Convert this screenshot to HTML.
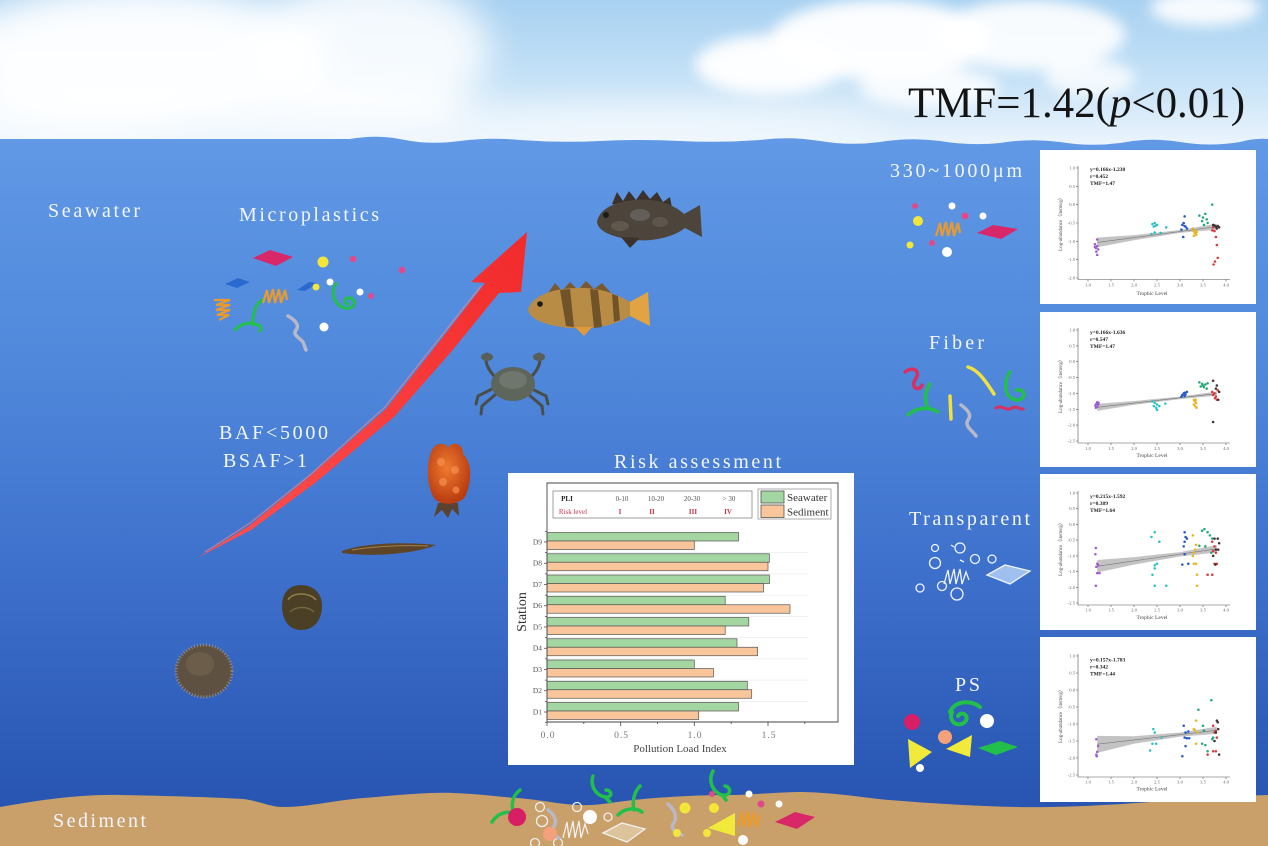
<!DOCTYPE html>
<html><head><meta charset="utf-8">
<style>
html,body{margin:0;padding:0;width:1268px;height:846px;overflow:hidden;background:#4a80d8}
svg{display:block}
text{font-family:"Liberation Serif",serif}
.lbl{fill:#f3f6ff;font-size:20px}
.tk{font-size:4.6px;fill:#666}
.pt{fill:none;stroke-linecap:round;stroke-width:2.5}
</style></head><body>
<svg width="1268" height="846" viewBox="0 0 1268 846" xmlns="http://www.w3.org/2000/svg">
<defs>
<linearGradient id="sky" x1="0" y1="0" x2="0" y2="1">
<stop offset="0" stop-color="#a8d1f1"/>
<stop offset="0.55" stop-color="#c6e2f7"/>
<stop offset="1" stop-color="#eef6fd"/>
</linearGradient>
<linearGradient id="sea" x1="0" y1="140" x2="0" y2="846" gradientUnits="userSpaceOnUse">
<stop offset="0" stop-color="#6199e6"/>
<stop offset="0.35" stop-color="#4e86da"/>
<stop offset="0.65" stop-color="#3b6dc9"/>
<stop offset="1" stop-color="#2350ac"/>
</linearGradient>
<filter id="b20" x="-60%" y="-60%" width="220%" height="220%"><feGaussianBlur stdDeviation="18"/></filter>
<filter id="b8" x="-60%" y="-60%" width="220%" height="220%"><feGaussianBlur stdDeviation="7"/></filter>
<linearGradient id="arr" x1="197" y1="558" x2="527" y2="232" gradientUnits="userSpaceOnUse">
<stop offset="0" stop-color="#ff5050"/><stop offset="1" stop-color="#f22a2a"/>
</linearGradient>
<radialGradient id="cuc" cx="0.45" cy="0.4" r="0.6">
<stop offset="0" stop-color="#f07a30"/><stop offset="1" stop-color="#b83c10"/>
</radialGradient>
</defs>

<!-- SKY -->
<rect x="0" y="0" width="1268" height="150" fill="url(#sky)"/>
<g filter="url(#b20)" fill="#fff">
<ellipse cx="140" cy="55" rx="190" ry="70" opacity="0.95"/>
<ellipse cx="80" cy="115" rx="130" ry="30" opacity="0.85"/>
<ellipse cx="370" cy="50" rx="120" ry="75" opacity="0.85"/>
<ellipse cx="300" cy="115" rx="170" ry="25" opacity="0.75"/>
<ellipse cx="640" cy="125" rx="250" ry="18" opacity="0.6"/>
</g>
<g filter="url(#b8)" fill="#fff">
<ellipse cx="770" cy="65" rx="75" ry="30" opacity="0.95"/>
<ellipse cx="880" cy="40" rx="110" ry="40" opacity="0.95"/>
<ellipse cx="1030" cy="35" rx="95" ry="35" opacity="0.9"/>
<ellipse cx="930" cy="88" rx="70" ry="20" opacity="0.85"/>
<ellipse cx="1090" cy="78" rx="45" ry="18" opacity="0.8"/>
<ellipse cx="1205" cy="8" rx="55" ry="18" opacity="0.9"/>
</g>

<!-- SEA -->
<path d="M0,846 L0,139 L350,139 Q378,134 405,140 Q430,145 460,141 Q490,137 520,140 Q560,143 600,141 Q640,139 680,141 Q720,143 760,140 Q790,136 820,141 Q850,146 880,142 Q910,137 940,141 Q970,146 1000,143 Q1030,138 1060,142 Q1090,147 1120,143 Q1150,137 1180,142 Q1210,147 1240,142 Q1255,138 1268,139 L1268,846 Z" fill="url(#sea)"/>

<!-- SEDIMENT -->
<path d="M0,807 C40,800 80,794 121,795 C170,796 210,797 243,799 C260,801 270,807 283,807 C310,807 335,800 364,798 C400,795 430,792 453,793 C480,794 500,797 517,798 C545,800 565,806 590,805 C610,804 620,800 670,797 C700,795 720,795 737,795 C760,794 785,792 803,792 C840,793 865,798 889,800 C940,804 1000,808 1051,807 C1120,806 1200,797 1268,795 L1268,846 L0,846 Z" fill="#c9a069"/>

<!-- TITLE -->
<text x="908" y="117" font-size="43" fill="#141414" textLength="337" lengthAdjust="spacingAndGlyphs">TMF=1.42(<tspan font-style="italic">p</tspan>&lt;0.01)</text>

<!-- LEFT LABELS -->
<text class="lbl" x="48" y="217" textLength="92">Seawater</text>
<text class="lbl" x="239" y="221" textLength="140">Microplastics</text>
<text class="lbl" x="219" y="439" textLength="109">BAF&lt;5000</text>
<text class="lbl" x="223" y="467" textLength="84">BSAF&gt;1</text>
<text class="lbl" x="53" y="827" textLength="93">Sediment</text>
<text class="lbl" x="614" y="468" textLength="167">Risk assessment</text>
<text class="lbl" x="890" y="177" textLength="132">330~1000μm</text>
<text class="lbl" x="929" y="349" textLength="55">Fiber</text>
<text class="lbl" x="909" y="525" textLength="121">Transparent</text>
<text class="lbl" x="955" y="691" textLength="25">PS</text>

<!-- ARROW -->
<path d="M197,558 L249,526 L309,477 L386,409 L439,342 L485,283 L471,282 L527,232 L521,292 L499,293 L451,352 L394,417 L315,483 L251,530 Z" fill="url(#arr)"/>
<path d="M205,552 L250,523 L310,475 L385,407 L438,340 L481,286" stroke="#ff8a8a" stroke-width="1.2" fill="none" opacity="0.6"/>

<!-- CREATURES -->
<g>
<polygon points="612,204 617,192 623,201 629,191 636,200 643,190 650,199 657,192 663,202 670,197 672,208" fill="#3a322b"/>
<path d="M597,222 C600,205 625,198 650,200 C665,201 678,208 684,214 L700,205 L702,237 L685,228 C675,236 655,242 635,240 C615,238 598,232 597,222 Z" fill="#4d443b"/>
<polygon points="621,237 630,248 640,238" fill="#3a322b"/>
<ellipse cx="640" cy="215" rx="10" ry="6" fill="#6e6a6a" opacity="0.7"/>
<ellipse cx="660" cy="222" rx="8" ry="5" fill="#6a6258" opacity="0.6"/>
<ellipse cx="620" cy="226" rx="9" ry="5" fill="#6e655a" opacity="0.6"/>
<circle cx="606" cy="215" r="3" fill="#1e1a18"/>
</g>
<g>
<path d="M548,293 L555,283 L562,291 L570,282 L578,290 L586,281 L594,289 L602,283 L612,294" fill="#7a5a2c"/>
<path d="M528,310 C532,295 555,287 585,288 C605,289 620,296 630,302 L648,292 L650,326 L630,316 C615,325 595,330 570,328 C548,326 530,320 528,310 Z" fill="#b88c45"/>
<path d="M630,302 L648,292 L650,326 L630,316 Z" fill="#e2a442"/>
<path d="M560,290 L566,326 L574,327 L570,289 Z M590,289 L594,328 L602,327 L598,290 Z M612,294 L614,322 L620,320 L618,296Z" fill="#5a4020" opacity="0.75"/>
<polygon points="575,327 584,336 592,327" fill="#e09a3a"/>
<circle cx="540" cy="304" r="2.8" fill="#1e1a18"/>
</g>
<g stroke="#4a4e48" stroke-width="3" fill="none" stroke-linecap="round">
<path d="M496,378 C488,370 484,362 487,354 M530,378 C538,370 542,362 539,354"/>
<path d="M494,388 L478,396 L476,404 M496,394 L482,406 L481,414 M530,388 L546,396 L548,404 M528,394 L542,406 L543,414"/>
</g>
<ellipse cx="487" cy="357" rx="6" ry="4" fill="#5a5e58"/>
<ellipse cx="539" cy="357" rx="6" ry="4" fill="#5a5e58"/>
<ellipse cx="513" cy="384" rx="22" ry="17" fill="#5e665c"/>
<ellipse cx="513" cy="380" rx="14" ry="9" fill="#79807a" opacity="0.6"/>
<g>
<path d="M438,503 L434,517 L442,510 L448,518 L452,509 L459,516 L458,503 Z" fill="#5a4230"/>
<path d="M432,450 C436,442 446,442 448,448 C452,440 464,444 463,454 C472,462 472,480 466,495 C462,505 440,507 434,498 C426,485 426,462 432,450 Z" fill="url(#cuc)"/>
<circle cx="441" cy="462" r="4" fill="#f59050" opacity="0.7"/>
<circle cx="455" cy="470" r="4" fill="#f59050" opacity="0.7"/>
<circle cx="443" cy="482" r="4" fill="#f59050" opacity="0.7"/>
<circle cx="456" cy="490" r="3.5" fill="#f59050" opacity="0.7"/>
</g>
<path d="M342,551 C360,544 400,541 436,545 C420,552 380,558 342,553 Z" fill="#5e4528"/>
<path d="M352,550 C375,546 405,545 428,546" stroke="#a0804c" stroke-width="1" fill="none"/>
<path d="M282,606 C282,590 292,585 301,585 C312,585 322,592 322,606 C322,620 314,630 301,630 C289,630 282,620 282,606 Z" fill="#4b4026"/>
<path d="M288,600 C292,592 310,592 316,600" stroke="#a89a5a" stroke-width="1.5" fill="none" opacity="0.7"/>
<path d="M290,612 C296,606 308,606 314,612" stroke="#8c7e48" stroke-width="1.2" fill="none" opacity="0.7"/>
<ellipse cx="204" cy="671" rx="28" ry="26" fill="#5e5142"/>
<ellipse cx="204" cy="671" rx="28" ry="26" fill="none" stroke="#9a8c78" stroke-width="3" stroke-dasharray="1 2"/>
<ellipse cx="200" cy="664" rx="14" ry="12" fill="#75664f" opacity="0.6"/>

<!-- SEAWATER MICROPLASTICS -->
<g>
<path d="M253,258 L270,250 L293,257 L276,266 Z" fill="#d8286a"/>
<circle cx="323" cy="262" r="5.5" fill="#f2e63a"/>
<circle cx="353" cy="259" r="3.3" fill="#e04a8a"/>
<circle cx="402" cy="270" r="3.3" fill="#e04a8a"/>
<path d="M225,284 L238,278 L250,282 L237,288Z" fill="#2a6ad0"/>
<path d="M297,290 L309,282 L318,283 L305,291Z" fill="#2a6ad0"/>
<circle cx="316" cy="287" r="3.5" fill="#f2e63a"/>
<circle cx="330" cy="282" r="3.5" fill="#fff"/>
<circle cx="360" cy="292" r="3.5" fill="#fff"/>
<circle cx="371" cy="296" r="3" fill="#e04a8a"/>
<circle cx="324" cy="327" r="4.5" fill="#fff"/>
<path d="M336,284 C330,292 334,305 345,308 C355,310 358,300 350,298 C344,297 343,303 348,304" stroke="#22c04a" stroke-width="3" fill="none" stroke-linecap="round"/>
<path d="M262,300 C255,305 252,315 253,325 M235,330 C242,322 252,322 258,325 C262,327 262,330 260,331" stroke="#22c04a" stroke-width="3" fill="none" stroke-linecap="round"/>
<path d="M263,303 l4,-13 l2,13 l4,-14 l2,14 l4,-14 l2,14 l4,-13 l2,10" stroke="#e89a30" stroke-width="2.2" fill="none"/>
<path d="M214,300 h16 l-14,5 h14 l-14,5 h14 l-13,5 h12 l-10,5" stroke="#e89a30" stroke-width="2.2" fill="none"/>
<path d="M288,316 C295,320 300,325 296,330 C292,335 300,338 303,342 L306,350" stroke="#b8b8c8" stroke-width="3.5" fill="none" stroke-linecap="round"/>
</g>

<!-- RIGHT COLUMN ICONS -->
<g>
<circle cx="915" cy="206" r="3" fill="#e04a8a"/>
<circle cx="918" cy="221" r="5" fill="#f2e63a"/>
<circle cx="952" cy="206" r="3.5" fill="#fff"/>
<circle cx="965" cy="216" r="3.5" fill="#e04a8a"/>
<circle cx="983" cy="216" r="3.5" fill="#fff"/>
<path d="M936,236 l4,-13 l2,13 l4,-14 l2,14 l4,-14 l2,14 l4,-13 l2,10" stroke="#e89a30" stroke-width="2.2" fill="none"/>
<path d="M977,233 L993,225 L1018,229 L1001,239 Z" fill="#d8286a"/>
<circle cx="910" cy="245" r="3.5" fill="#f2e63a"/>
<circle cx="932" cy="243" r="3" fill="#e04a8a"/>
<circle cx="947" cy="252" r="5" fill="#fff"/>
</g>
<g fill="none" stroke-linecap="round" stroke-width="3.5">
<path d="M905,372 C912,366 922,370 915,380 C910,388 920,392 922,385" stroke="#d83060"/>
<path d="M968,367 C978,370 985,380 994,394" stroke="#f0e040"/>
<path d="M1010,372 C1003,382 1004,400 1018,400 C1028,398 1024,388 1016,390" stroke="#22c04a"/>
<path d="M930,384 C925,392 924,400 928,408 M908,415 C915,408 928,406 938,412" stroke="#22c04a"/>
<path d="M950,396 L951,419" stroke="#f0e040"/>
<path d="M961,405 C968,410 972,415 968,420 C964,426 972,430 976,436" stroke="#b8b8c8"/>
<path d="M996,408 C1002,404 1006,412 1012,408 C1016,405 1020,410 1023,409" stroke="#d83060" stroke-width="3"/>
</g>
<g fill="none" stroke="#f0f4ff" stroke-width="1.3">
<circle cx="935" cy="548" r="3.5"/>
<circle cx="935" cy="563" r="5.5"/>
<circle cx="960" cy="548" r="5"/>
<circle cx="975" cy="559" r="4.5"/>
<circle cx="992" cy="559" r="4"/>
<circle cx="920" cy="588" r="4"/>
<circle cx="942" cy="586" r="4.5"/>
<circle cx="957" cy="594" r="6"/>
<path d="M944,584 l4,-14 l2,14 l4,-15 l2,15 l4,-15 l2,15 l4,-12 l3,8"/>
<path d="M987,575 L1005,565 L1030,571 L1010,584 Z" fill="#9fc0ee"/>
<path d="M951,545 l3,2 M960,560 l4,2"/>
</g>
<g>
<circle cx="912" cy="722" r="8" fill="#d81e64"/>
<path d="M950,712 C955,700 972,700 980,707 M952,712 C948,722 958,728 965,722 C970,716 962,710 958,716" stroke="#22c04a" stroke-width="4" fill="none" stroke-linecap="round"/>
<circle cx="987" cy="721" r="7" fill="#fff"/>
<circle cx="945" cy="737" r="7" fill="#f4a07a"/>
<polygon points="908,739 932,752 910,768" fill="#f2ea3a"/>
<polygon points="972,735 946,749 970,757" fill="#f2ea3a"/>
<polygon points="978,748 1000,741 1018,747 996,755" fill="#22c04a"/>
<circle cx="920" cy="768" r="4" fill="#fff"/>
</g>

<!-- SEDIMENT ICONS -->
<g>
<path d="M492,822 C498,812 510,810 515,815 M515,815 C510,806 512,796 520,790" stroke="#22c04a" stroke-width="3.5" fill="none" stroke-linecap="round"/>
<circle cx="517" cy="817" r="9" fill="#d81e64"/>
<g fill="none" stroke="#f0f0f0" stroke-width="1.3">
<circle cx="540" cy="807" r="4.5"/><circle cx="542" cy="821" r="5.5"/><circle cx="535" cy="843" r="4.5"/><circle cx="558" cy="843" r="4.5"/><circle cx="577" cy="807" r="4.5"/><circle cx="608" cy="817" r="4"/>
<path d="M563,838 l4,-16 l2,16 l4,-17 l2,17 l4,-17 l2,17 l4,-14 l3,10"/>
<path d="M603,833 L622,823 L645,829 L627,842 Z" fill="#dcc39a"/>
</g>
<path d="M548,810 C555,815 558,822 553,828 C550,833 556,836 559,838" stroke="#b8b8c8" stroke-width="3.5" fill="none" stroke-linecap="round"/>
<circle cx="550" cy="834" r="7" fill="#f4a07a"/>
<circle cx="590" cy="817" r="7" fill="#fff"/>
<path d="M593,776 C590,785 595,795 605,797 C613,798 612,790 606,790 M605,797 L610,802" stroke="#22c04a" stroke-width="3.5" fill="none" stroke-linecap="round"/>
<path d="M640,786 C634,792 632,802 634,810 M618,815 C625,808 635,807 642,812" stroke="#22c04a" stroke-width="3.5" fill="none" stroke-linecap="round"/>
<path d="M668,804 C675,810 678,818 673,824 C670,830 678,832 682,835" stroke="#b8b8c8" stroke-width="3.5" fill="none" stroke-linecap="round"/>
<circle cx="685" cy="808" r="5.5" fill="#f2e63a"/>
<circle cx="677" cy="833" r="4" fill="#f2e63a"/>
<circle cx="714" cy="808" r="5" fill="#f2e63a"/>
<circle cx="707" cy="833" r="4" fill="#f2e63a"/>
<path d="M713,771 C708,780 712,792 722,795 C731,797 732,787 725,786 M722,795 L726,800" stroke="#22c04a" stroke-width="3.5" fill="none" stroke-linecap="round"/>
<circle cx="712" cy="794" r="3" fill="#e04a8a"/>
<polygon points="735,813 708,828 735,836" fill="#f2ea3a"/>
<path d="M738,827 l4,-15 l2,15 l4,-15 l2,15 l4,-15 l2,15 l4,-12" stroke="#e89a30" stroke-width="2.2" fill="none"/>
<circle cx="761" cy="804" r="3.5" fill="#e04a8a"/>
<circle cx="749" cy="794" r="3.5" fill="#fff"/>
<circle cx="779" cy="804" r="3.5" fill="#fff"/>
<circle cx="743" cy="840" r="5" fill="#fff"/>
<path d="M775,822 L795,812 L815,817 L797,829 Z" fill="#d8286a"/>
</g>

<!-- RISK CHART -->
<g>
<rect x="508" y="473" width="346" height="292" fill="#fff"/>
<g stroke="#ececec" stroke-width="0.7">
<path d="M548,552.6H808 M548,573.9H808 M548,595.1H808 M548,616.4H808 M548,637.6H808 M548,658.9H808 M548,680.1H808 M548,701.4H808"/>
</g>
<g stroke="#555" stroke-width="0.8">
<rect x="553" y="491" width="199" height="27" fill="#fff" stroke="#888"/>
<rect x="758" y="489" width="73" height="30" fill="#fff" stroke="#999"/>
<rect x="761" y="491" width="23" height="12" fill="#a3d6a0"/>
<rect x="761" y="505" width="23" height="12.5" fill="#f9c69b"/>
</g>
<g stroke="#555" stroke-width="0.7">
<rect x="547" y="702.5" width="191.5" height="8.5" fill="#a3d6a0"/>
<rect x="547" y="711" width="151.7" height="8.5" fill="#f9c69b"/>
<rect x="547" y="681.25" width="200.3" height="8.5" fill="#a3d6a0"/>
<rect x="547" y="689.75" width="204.7" height="8.5" fill="#f9c69b"/>
<rect x="547" y="660" width="147.3" height="8.5" fill="#a3d6a0"/>
<rect x="547" y="668.5" width="166.4" height="8.5" fill="#f9c69b"/>
<rect x="547" y="638.75" width="190" height="8.5" fill="#a3d6a0"/>
<rect x="547" y="647.25" width="210.6" height="8.5" fill="#f9c69b"/>
<rect x="547" y="617.5" width="201.8" height="8.5" fill="#a3d6a0"/>
<rect x="547" y="626" width="178.2" height="8.5" fill="#f9c69b"/>
<rect x="547" y="596.25" width="178.2" height="8.5" fill="#a3d6a0"/>
<rect x="547" y="604.75" width="243" height="8.5" fill="#f9c69b"/>
<rect x="547" y="575" width="222.4" height="8.5" fill="#a3d6a0"/>
<rect x="547" y="583.5" width="216.5" height="8.5" fill="#f9c69b"/>
<rect x="547" y="553.75" width="222.4" height="8.5" fill="#a3d6a0"/>
<rect x="547" y="562.25" width="221" height="8.5" fill="#f9c69b"/>
<rect x="547" y="532.5" width="191.5" height="8.5" fill="#a3d6a0"/>
<rect x="547" y="541" width="147.3" height="8.5" fill="#f9c69b"/>
</g>
<path d="M547,483 H838 V722 H547 Z" fill="none" stroke="#444" stroke-width="0.9"/>
<path d="M544,712H547 M544,690.75H547 M544,669.5H547 M544,648.25H547 M544,627H547 M544,605.75H547 M544,584.5H547 M544,563.25H547 M544,542H547 M545,722.6H547 M545,701.4H547 M545,680.1H547 M545,658.9H547 M545,637.6H547 M545,616.4H547 M545,595.1H547 M545,573.9H547 M545,552.6H547 M545,531.4H547 M547,722V726 M620.7,722V726 M694.3,722V726 M768,722V726 M583.8,722V724 M657.5,722V724 M731.2,722V724 M804.8,722V724" stroke="#444" stroke-width="0.8"/>
<g font-size="7.5" fill="#555" text-anchor="end">
<text x="542" y="714.5">D1</text><text x="542" y="693.2">D2</text><text x="542" y="672">D3</text><text x="542" y="650.7">D4</text><text x="542" y="629.5">D5</text><text x="542" y="608.2">D6</text><text x="542" y="587">D7</text><text x="542" y="565.7">D8</text><text x="542" y="544.5">D9</text>
</g>
<g font-size="9.5" fill="#777" text-anchor="middle" letter-spacing="1">
<text x="548" y="738">0.0</text><text x="621.5" y="738">0.5</text><text x="695" y="738">1.0</text><text x="769" y="738">1.5</text>
</g>
<text x="680" y="752" font-size="11" fill="#444" text-anchor="middle">Pollution Load Index</text>
<text transform="translate(526,612) rotate(-90)" font-size="14" fill="#333" text-anchor="middle">Station</text>
<g font-size="7" fill="#555" text-anchor="middle">
<text x="567" y="501" font-weight="bold" fill="#222">PLI</text>
<text x="622" y="501">0-10</text><text x="656" y="501">10-20</text><text x="692" y="501">20-30</text><text x="729" y="501">&gt; 30</text>
<text x="573" y="514" fill="#c8324a">Risk level</text>
<g fill="#c8324a" font-weight="bold"><text x="620" y="514">I</text><text x="652" y="514">II</text><text x="693" y="514">III</text><text x="728" y="514">IV</text></g>
</g>
<text x="787" y="501" font-size="11" fill="#333">Seawater</text>
<text x="787" y="515.5" font-size="11" fill="#333">Sediment</text>
</g>

<!-- TMF PANEL 1 -->
<g transform="translate(1040,150)">
<rect width="216" height="154" fill="#fff"/>
<g transform="matrix(46 0 0 -36.67 2 54.67)">
<polygon points="1.2,-0.90 2.0,-0.83 3.0,-0.69 3.8,-0.52 3.8,-0.68 3.0,-0.77 2.0,-0.97 1.2,-1.16" fill="#b9b9b9" opacity="0.85"/>
<path d="M1.2,-1.031L3.8,-0.599" stroke="#777" stroke-width="0.6" vector-effect="non-scaling-stroke"/>
<path class="pt" vector-effect="non-scaling-stroke" stroke="#a05ad0" d="M1.2 -.95h.001M1.15 -1.08h.001M1.2 -1.13h.001M1.17 -1.18h.001M1.22 -1.22h.001M1.18 -1.28h.001M1.2 -1.37h.001M1.15 -1.15h.001"/>
<path class="pt" vector-effect="non-scaling-stroke" stroke="#28c0c8" d="M2.4 -.53h.001M2.45 -.5h.001M2.5 -.55h.001M2.43 -.6h.001M2.47 -.57h.001M2.7 -.62h.001M2.38 -.8h.001M2.45 -.76h.001M2.58 -.77h.001"/>
<path class="pt" vector-effect="non-scaling-stroke" stroke="#2458c8" d="M3.1 -.32h.001M3.05 -.55h.001M3.08 -.5h.001M3.12 -.6h.001M3.15 -.65h.001M3.03 -.68h.001M3.07 -.88h.001M3.1 -.58h.001"/>
<path class="pt" vector-effect="non-scaling-stroke" stroke="#e8b420" d="M3.28 -.65h.001M3.3 -.72h.001M3.32 -.78h.001M3.35 -.82h.001M3.3 -.85h.001M3.33 -.7h.001M3.36 -.75h.001"/>
<path class="pt" vector-effect="non-scaling-stroke" stroke="#20a878" d="M3.42 -.3h.001M3.5 -.35h.001M3.55 -.25h.001M3.58 -.4h.001M3.48 -.45h.001M3.6 -.5h.001M3.52 -.55h.001M3.7 0h.001"/>
<path class="pt" vector-effect="non-scaling-stroke" stroke="#d83838" d="M3.72 -.62h.001M3.75 -.72h.001M3.78 -.88h.001M3.8 -1.1h.001M3.82 -1.45h.001M3.76 -1.55h.001M3.73 -1.63h.001M3.7 -.7h.001"/>
<path class="pt" vector-effect="non-scaling-stroke" stroke="#403030" d="M3.72 -.55h.001M3.78 -.6h.001M3.82 -.58h.001M3.85 -.62h.001M3.8 -.65h.001M3.75 -.57h.001"/>
</g>
<path d="M38,16V129.5H190 M36,18H38 M36,36.3H38 M36,54.7H38 M36,73H38 M36,91.3H38 M36,109.7H38 M36,128H38 M48,129.5V131.5 M71,129.5V131.5 M94,129.5V131.5 M117,129.5V131.5 M140,129.5V131.5 M163,129.5V131.5 M186,129.5V131.5" stroke="#555" stroke-width="0.6" fill="none"/>
<g class="tk" text-anchor="end"><text x="35" y="19.5">1.0</text><text x="35" y="37.8">0.5</text><text x="35" y="56.2">0.0</text><text x="35" y="74.5">-0.5</text><text x="35" y="92.8">-1.0</text><text x="35" y="111.2">-1.5</text><text x="35" y="129.5">-2.0</text></g>
<g class="tk" text-anchor="middle"><text x="48" y="136.5">1.0</text><text x="71" y="136.5">1.5</text><text x="94" y="136.5">2.0</text><text x="117" y="136.5">2.5</text><text x="140" y="136.5">3.0</text><text x="163" y="136.5">3.5</text><text x="186" y="136.5">4.0</text></g>
<text x="112" y="145" font-size="5.5" fill="#444" text-anchor="middle">Trophic Level</text>
<text transform="translate(22,73) rotate(-90)" font-size="5" fill="#444" text-anchor="middle">Log-abundance（items/g）</text>
<g font-size="5.5" font-weight="bold" fill="#222"><text x="50" y="21">y=0.166x-1.230</text><text x="50" y="28">r=0.452</text><text x="50" y="35">TMF=1.47</text></g>
</g>

<!-- TMF PANEL 2 -->
<g transform="translate(1040,312)">
<rect width="216" height="155" fill="#fff"/>
<g transform="matrix(46 0 0 -31.71 2 49.71)">
<polygon points="1.2,-1.33 2.0,-1.24 3.0,-1.10 3.8,-0.94 3.8,-1.07 3.0,-1.18 2.0,-1.36 1.2,-1.55" fill="#b9b9b9" opacity="0.85"/>
<path d="M1.2,-1.437L3.8,-1.005" stroke="#777" stroke-width="0.6" vector-effect="non-scaling-stroke"/>
<path class="pt" vector-effect="non-scaling-stroke" stroke="#a05ad0" d="M1.2 -1.28h.001M1.18 -1.33h.001M1.16 -1.38h.001M1.22 -1.35h.001M1.2 -1.42h.001M1.17 -1.45h.001M1.23 -1.3h.001"/>
<path class="pt" vector-effect="non-scaling-stroke" stroke="#28c0c8" d="M2.4 -1.25h.001M2.45 -1.3h.001M2.5 -1.35h.001M2.43 -1.4h.001M2.48 -1.45h.001M2.55 -1.4h.001M2.5 -1.52h.001M2.68 -1.32h.001"/>
<path class="pt" vector-effect="non-scaling-stroke" stroke="#2458c8" d="M3.05 -1.05h.001M3.08 -1h.001M3.1 -.98h.001M3.12 -1.03h.001M3.15 -.95h.001M3.03 -1.1h.001M3.1 -1.08h.001"/>
<path class="pt" vector-effect="non-scaling-stroke" stroke="#e8b420" d="M3.3 -1.2h.001M3.32 -1.25h.001M3.35 -1.3h.001M3.3 -1.35h.001M3.33 -1.4h.001M3.36 -1.45h.001M3.34 -1.2h.001"/>
<path class="pt" vector-effect="non-scaling-stroke" stroke="#20a878" d="M3.42 -.65h.001M3.48 -.7h.001M3.5 -.75h.001M3.55 -.72h.001M3.52 -.8h.001M3.6 -.68h.001M3.58 -.85h.001M3.45 -.78h.001"/>
<path class="pt" vector-effect="non-scaling-stroke" stroke="#d83838" d="M3.7 -.95h.001M3.75 -1h.001M3.78 -1.1h.001M3.8 -1.2h.001M3.72 -1.05h.001M3.76 -1.15h.001M3.82 -.9h.001"/>
<path class="pt" vector-effect="non-scaling-stroke" stroke="#403030" d="M3.72 -.6h.001M3.8 -.75h.001M3.85 -.95h.001M3.83 -1.2h.001M3.72 -1.9h.001M3.78 -.85h.001"/>
</g>
<path d="M38,16V131H190 M36,18H38 M36,33.9H38 M36,49.7H38 M36,65.6H38 M36,81.4H38 M36,97.3H38 M36,113.1H38 M36,129H38 M48,131V133 M71,131V133 M94,131V133 M117,131V133 M140,131V133 M163,131V133 M186,131V133" stroke="#555" stroke-width="0.6" fill="none"/>
<g class="tk" text-anchor="end"><text x="35" y="19.5">1.0</text><text x="35" y="35.4">0.5</text><text x="35" y="51.2">0.0</text><text x="35" y="67.1">-0.5</text><text x="35" y="82.9">-1.0</text><text x="35" y="98.8">-1.5</text><text x="35" y="114.6">-2.0</text><text x="35" y="130.5">-2.5</text></g>
<g class="tk" text-anchor="middle"><text x="48" y="138">1.0</text><text x="71" y="138">1.5</text><text x="94" y="138">2.0</text><text x="117" y="138">2.5</text><text x="140" y="138">3.0</text><text x="163" y="138">3.5</text><text x="186" y="138">4.0</text></g>
<text x="112" y="145" font-size="5.5" fill="#444" text-anchor="middle">Trophic Level</text>
<text transform="translate(22,73) rotate(-90)" font-size="5" fill="#444" text-anchor="middle">Log-abundance（items/g）</text>
<g font-size="5.5" font-weight="bold" fill="#222"><text x="50" y="22">y=0.166x-1.636</text><text x="50" y="29">r=0.547</text><text x="50" y="36">TMF=1.47</text></g>
</g>

<!-- TMF PANEL 3 -->
<g transform="translate(1040,474)">
<rect width="216" height="156" fill="#fff"/>
<g transform="matrix(46 0 0 -31.43 2 50.43)">
<polygon points="1.2,-1.13 2.0,-1.04 3.0,-0.88 3.8,-0.66 3.8,-0.89 3.0,-1.02 2.0,-1.28 1.2,-1.53" fill="#b9b9b9" opacity="0.85"/>
<path d="M1.2,-1.334L3.8,-0.775" stroke="#777" stroke-width="0.6" vector-effect="non-scaling-stroke"/>
<path class="pt" vector-effect="non-scaling-stroke" stroke="#a05ad0" d="M1.17 -.75h.001M1.16 -.95h.001M1.2 -1.25h.001M1.22 -1.3h.001M1.18 -1.35h.001M1.2 -1.55h.001M1.25 -1.55h.001M1.17 -1.95h.001"/>
<path class="pt" vector-effect="non-scaling-stroke" stroke="#28c0c8" d="M2.38 -.4h.001M2.45 -.25h.001M2.55 -.55h.001M2.45 -1.3h.001M2.5 -1.25h.001M2.45 -1.4h.001M2.4 -1.6h.001M2.45 -1.95h.001M2.7 -1.95h.001"/>
<path class="pt" vector-effect="non-scaling-stroke" stroke="#2458c8" d="M3.1 -.25h.001M3.12 -.4h.001M3.15 -.45h.001M3.08 -.7h.001M3.1 -.95h.001M3.05 -1.28h.001M3.18 -1.25h.001M3.1 -.55h.001"/>
<path class="pt" vector-effect="non-scaling-stroke" stroke="#e8b420" d="M3.28 -.35h.001M3.35 -.65h.001M3.3 -.9h.001M3.28 -1h.001M3.3 -1.25h.001M3.35 -1.25h.001M3.37 -1.6h.001M3.37 -1.95h.001M3.33 -.8h.001"/>
<path class="pt" vector-effect="non-scaling-stroke" stroke="#20a878" d="M3.48 -.2h.001M3.53 -.15h.001M3.6 -.25h.001M3.65 -.35h.001M3.7 -.45h.001M3.55 -.7h.001M3.68 -.9h.001M3.42 -.68h.001"/>
<path class="pt" vector-effect="non-scaling-stroke" stroke="#d83838" d="M3.7 -.55h.001M3.75 -.7h.001M3.72 -.85h.001M3.78 -.9h.001M3.75 -1.25h.001M3.8 -1.25h.001M3.6 -1.6h.001M3.7 -1.6h.001"/>
<path class="pt" vector-effect="non-scaling-stroke" stroke="#403030" d="M3.75 -.45h.001M3.82 -.45h.001M3.85 -.6h.001M3.78 -.8h.001M3.83 -.8h.001M3.72 -1h.001M3.77 -1.28h.001"/>
</g>
<path d="M38,17V131H190 M36,19H38 M36,34.7H38 M36,50.4H38 M36,66.1H38 M36,81.9H38 M36,97.6H38 M36,113.3H38 M36,129H38 M48,131V133 M71,131V133 M94,131V133 M117,131V133 M140,131V133 M163,131V133 M186,131V133" stroke="#555" stroke-width="0.6" fill="none"/>
<g class="tk" text-anchor="end"><text x="35" y="20.5">1.0</text><text x="35" y="36.2">0.5</text><text x="35" y="51.9">0.0</text><text x="35" y="67.6">-0.5</text><text x="35" y="83.4">-1.0</text><text x="35" y="99.1">-1.5</text><text x="35" y="114.8">-2.0</text><text x="35" y="130.5">-2.5</text></g>
<g class="tk" text-anchor="middle"><text x="48" y="137.5">1.0</text><text x="71" y="137.5">1.5</text><text x="94" y="137.5">2.0</text><text x="117" y="137.5">2.5</text><text x="140" y="137.5">3.0</text><text x="163" y="137.5">3.5</text><text x="186" y="137.5">4.0</text></g>
<text x="112" y="145" font-size="5.5" fill="#444" text-anchor="middle">Trophic Level</text>
<text transform="translate(22,74) rotate(-90)" font-size="5" fill="#444" text-anchor="middle">Log-abundance（items/g）</text>
<g font-size="5.5" font-weight="bold" fill="#222"><text x="50" y="24">y=0.215x-1.592</text><text x="50" y="31">r=0.389</text><text x="50" y="38">TMF=1.64</text></g>
</g>

<!-- TMF PANEL 4 -->
<g transform="translate(1040,637)">
<rect width="216" height="165" fill="#fff"/>
<g transform="matrix(46 0 0 -34 2 53)">
<polygon points="1.2,-1.35 2.0,-1.36 3.0,-1.25 3.8,-1.08 3.8,-1.29 3.0,-1.37 2.0,-1.58 1.2,-1.85" fill="#b9b9b9" opacity="0.85"/>
<path d="M1.2,-1.595L3.8,-1.186" stroke="#777" stroke-width="0.6" vector-effect="non-scaling-stroke"/>
<path class="pt" vector-effect="non-scaling-stroke" stroke="#a05ad0" d="M1.18 -1.45h.001M1.22 -1.65h.001M1.2 -1.82h.001M1.18 -1.9h.001M1.19 -1.95h.001"/>
<path class="pt" vector-effect="non-scaling-stroke" stroke="#28c0c8" d="M2.42 -1.15h.001M2.45 -1.25h.001M2.6 -1.4h.001M2.4 -1.58h.001M2.48 -1.58h.001M2.35 -1.78h.001"/>
<path class="pt" vector-effect="non-scaling-stroke" stroke="#2458c8" d="M3.08 -1.05h.001M3.12 -1.25h.001M3.18 -1.22h.001M3.1 -1.4h.001M3.15 -1.42h.001M3.2 -1.42h.001M3.12 -1.65h.001M3.05 -1.95h.001"/>
<path class="pt" vector-effect="non-scaling-stroke" stroke="#e8b420" d="M3.35 -.9h.001M3.3 -1.15h.001M3.32 -1.18h.001M3.38 -1.25h.001M3.35 -1.58h.001"/>
<path class="pt" vector-effect="non-scaling-stroke" stroke="#20a878" d="M3.4 -.58h.001M3.68 -.3h.001M3.5 -1.05h.001M3.52 -1.2h.001M3.48 -1.58h.001M3.55 -1.62h.001M3.6 -1.8h.001M3.7 -1.45h.001M3.72 -1.4h.001"/>
<path class="pt" vector-effect="non-scaling-stroke" stroke="#d83838" d="M3.72 -1.05h.001M3.78 -1.2h.001M3.75 -1.25h.001M3.8 -1.4h.001M3.72 -1.8h.001M3.78 -1.8h.001M3.6 -1.9h.001"/>
<path class="pt" vector-effect="non-scaling-stroke" stroke="#403030" d="M3.8 -.9h.001M3.82 -.95h.001M3.83 -1.15h.001M3.78 -1.25h.001M3.75 -1.5h.001M3.85 -1.9h.001"/>
</g>
<path d="M38,17V140H190 M36,19H38 M36,36H38 M36,53H38 M36,70H38 M36,87H38 M36,104H38 M36,121H38 M36,138H38 M48,140V142 M71,140V142 M94,140V142 M117,140V142 M140,140V142 M163,140V142 M186,140V142" stroke="#555" stroke-width="0.6" fill="none"/>
<g class="tk" text-anchor="end"><text x="35" y="20.5">1.0</text><text x="35" y="37.5">0.5</text><text x="35" y="54.5">0.0</text><text x="35" y="71.5">-0.5</text><text x="35" y="88.5">-1.0</text><text x="35" y="105.5">-1.5</text><text x="35" y="122.5">-2.0</text><text x="35" y="139.5">-2.5</text></g>
<g class="tk" text-anchor="middle"><text x="48" y="146.5">1.0</text><text x="71" y="146.5">1.5</text><text x="94" y="146.5">2.0</text><text x="117" y="146.5">2.5</text><text x="140" y="146.5">3.0</text><text x="163" y="146.5">3.5</text><text x="186" y="146.5">4.0</text></g>
<text x="112" y="153.5" font-size="5.5" fill="#444" text-anchor="middle">Trophic Level</text>
<text transform="translate(22,78) rotate(-90)" font-size="5" fill="#444" text-anchor="middle">Log-abundance（items/g）</text>
<g font-size="5.5" font-weight="bold" fill="#222"><text x="50" y="24.5">y=0.157x-1.783</text><text x="50" y="31.5">r=0.342</text><text x="50" y="38.5">TMF=1.44</text></g>
</g>

</svg>
</body></html>
